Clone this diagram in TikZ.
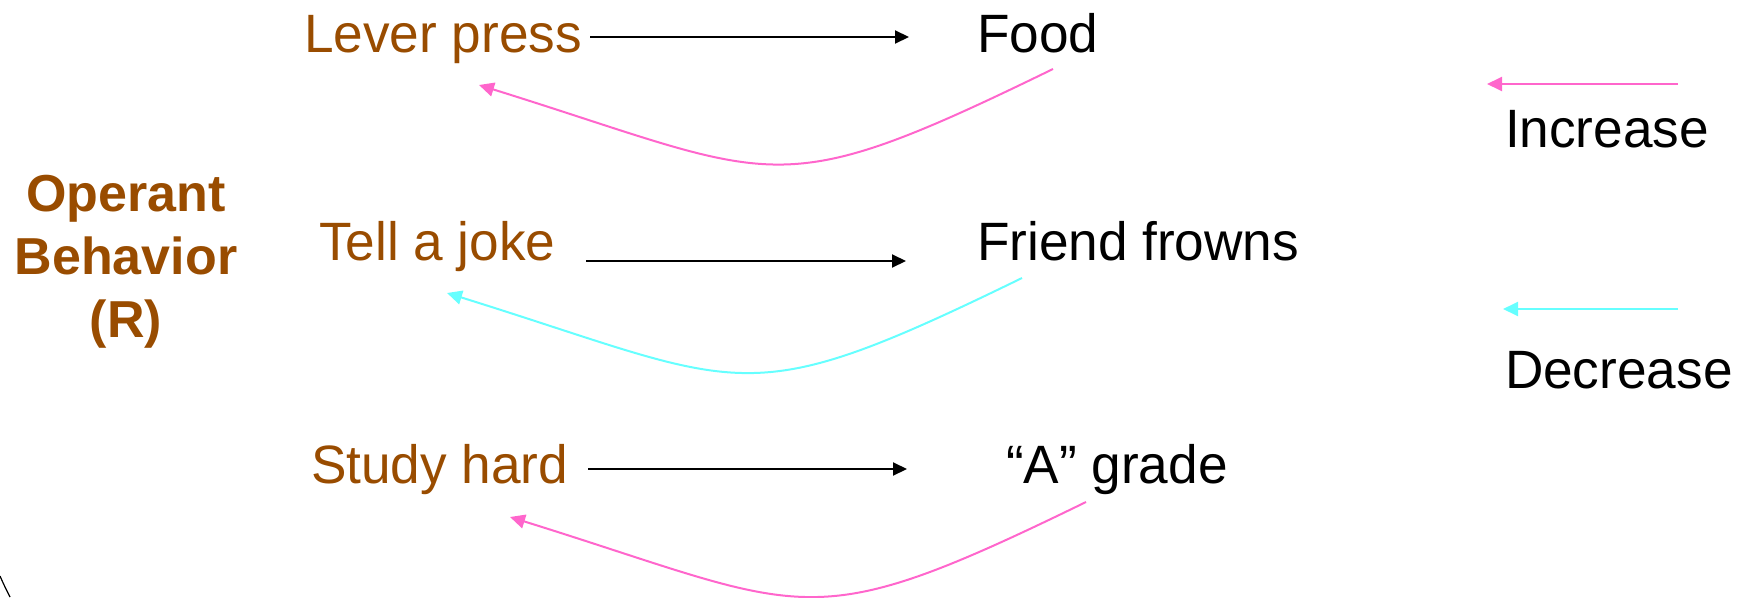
\documentclass[tikz,border=0pt]{standalone}
\usepackage{fontspec}
\setmainfont{Liberation Sans}
\newfontfamily\condfont{Liberation Sans}[FakeStretch=0.985]
\usetikzlibrary{arrows.meta}
\definecolor{brownt}{RGB}{153,76,0}
\definecolor{pinkl}{RGB}{255,102,204}
\definecolor{cyanl}{RGB}{102,255,255}
\tikzset{
  lbl/.style={inner sep=0pt, outer sep=0pt, anchor=base west, font=\condfont\fontsize{54}{60}\selectfont},
  beh/.style={lbl, text=brownt},
  cons/.style={lbl, text=black},
  blkarr/.style={draw=black, line width=2pt, -{Triangle[length=14pt,width=13pt]}},
  incarr/.style={draw=pinkl, line width=2pt, -{Triangle[length=15pt,width=14pt]}},
  decarr/.style={draw=cyanl, line width=2pt, -{Triangle[length=15pt,width=14pt]}},
}
\begin{document}
\begin{tikzpicture}[x=1pt,y=-1pt]
\useasboundingbox (0,0) rectangle (1742,597);
% left label
\node[inner sep=0pt, align=center, text=brownt, font=\bfseries\fontsize{52}{63}\selectfont] (oper) at (126,262) {Operant\\Behavior\\(R)};
% rows
\node[beh] (lever) at (304,52) {Lever press};
\node[cons] (food) at (977,52) {Food};
\node[beh] (joke) at (319,260) {Tell a joke};
\node[cons] (frown) at (977,260) {Friend frowns};
\node[beh] (study) at (311,483) {Study hard};
\node[cons] (grade) at (1006,483) {“A” grade};
% legend
\node[cons] (inc) at (1505,147) {Increase};
\node[cons] (dec) at (1505,388) {Decrease};
% arrow end points
\coordinate (r1a) at (590,37);  \coordinate (r1b) at (909,37);
\coordinate (r2a) at (586,261); \coordinate (r2b) at (906,261);
\coordinate (r3a) at (588,469); \coordinate (r3b) at (907,469);
\draw[blkarr] (r1a) -- (r1b);
\draw[blkarr] (r2a) -- (r2b);
\draw[blkarr] (r3a) -- (r3b);
% feedback curves
\coordinate (c1s) at (1053,69); \coordinate (c1e) at (479,85);
\coordinate (c2s) at (1022,278); \coordinate (c2e) at (447,293);
\coordinate (c3s) at (1086,502); \coordinate (c3e) at (510,517);
\draw[incarr] (c1s) .. controls (770,207) and (781,179) .. (c1e);
\draw[decarr] (c2s) .. controls (739,416) and (749,387) .. (c2e);
\draw[incarr] (c3s) .. controls (803,640) and (812,611) .. (c3e);
% legend arrows
\coordinate (l1s) at (1678,84); \coordinate (l1e) at (1487,84);
\coordinate (l2s) at (1678,309); \coordinate (l2e) at (1503,309);
\draw[incarr] (l1s) -- (l1e);
\draw[decarr] (l2s) -- (l2e);
% corner arc
\draw[line width=1.2pt] (0,576) .. controls (4,585) .. (10,597);
\end{tikzpicture}
\end{document}
